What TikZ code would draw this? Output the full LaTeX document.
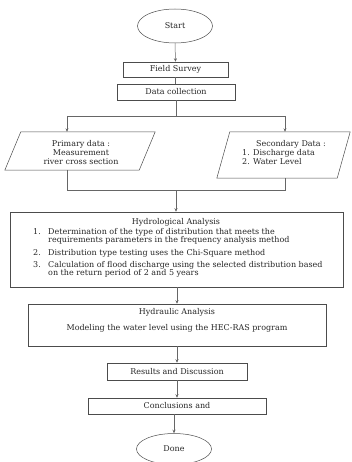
\documentclass[tikz,border=0pt]{standalone}
\usepackage{fontspec}
\setmainfont{DejaVu Serif}
\usetikzlibrary{shapes.geometric,arrows.meta,calc}
\tikzset{
  lineclr/.style={draw=black!70, line width=0.5pt},
  boxnode/.style={lineclr, rectangle, inner sep=0pt},
  ovalnode/.style={lineclr, ellipse, inner sep=0pt},
  txt/.style={inner sep=0pt, text=black!85, font=\fontsize{8}{9}\selectfont},
  conn/.style={draw=black!60, line width=0.5pt},
  arr/.style={conn, -{Stealth[length=3.5pt,width=3pt]}},
}
\begin{document}
\begin{tikzpicture}[x=1pt,y=-1pt]
\useasboundingbox (0,0) rectangle (352,462);
\node[ovalnode, minimum width=75, minimum height=34] (start) at (175,26) {};
\node[txt] (starttxt) at (start) {Start};
\node[boxnode, minimum width=105, minimum height=15] (field) at (175.5,69.5) {};
\node[txt] (fieldtxt) at (field) {Field Survey};
\node[boxnode, minimum width=118, minimum height=16] (data) at (176,92) {};
\node[txt] (datatxt) at (data) {Data collection};
\coordinate (j1) at (176,116);
\coordinate (jl) at (67,116);
\coordinate (jr) at (285,116);
% primary parallelogram
\node[inner sep=0pt, minimum width=150, minimum height=38] (prim) at (80,151) {};
\draw[lineclr] (prim.south west) -- ($(prim.north west)+(16,0)$) -- (prim.north east) -- ($(prim.south east)+(-16,0)$) -- cycle;
\node[txt, align=center] (primtxt) at (81,153) {Primary data :\\Measurement\\river cross section};
% secondary parallelogram
\node[inner sep=0pt, minimum width=133, minimum height=46] (sec) at (283.5,155) {};
\draw[lineclr] (sec.south west) -- ($(sec.north west)+(13,0)$) -- (sec.north east) -- ($(sec.south east)+(-13,0)$) -- cycle;
\node[txt, anchor=mid] (sectitle) at (291,144) {Secondary Data :};
\node[txt, anchor=mid west] (sec1) at (242,153) {1. Discharge data};
\node[txt, anchor=mid west] (sec2) at (242,162) {2. Water Level};
\coordinate (pb) at (67,170);
\coordinate (sb) at (285,178);
\coordinate (pl) at (67,190);
\coordinate (sl) at (285,190);
\coordinate (j2) at (176,190);
% hydrological
\node[boxnode, minimum width=333, minimum height=75] (hydro) at (176.5,249.5) {};
\node[txt, anchor=mid] (hydtitle) at (176,222) {Hydrological Analysis};
\node[txt, anchor=mid west] (n1) at (33,232) {1.};
\node[txt, anchor=mid west] (i1a) at (48,232) {Determination of the type of distribution that meets the};
\node[txt, anchor=mid west] (i1b) at (48,240) {requirements parameters in the frequency analysis method};
\node[txt, anchor=mid west] (n2) at (33,253) {2.};
\node[txt, anchor=mid west] (i2) at (48,253) {Distribution type testing uses the Chi-Square method};
\node[txt, anchor=mid west] (n3) at (33,265) {3.};
\node[txt, anchor=mid west] (i3a) at (48,265) {Calculation of flood discharge using the selected distribution based};
\node[txt, anchor=mid west] (i3b) at (48,273) {on the return period of 2 and 5 years};
% hydraulic
\node[boxnode, minimum width=298, minimum height=42] (hydra) at (177,325) {};
\node[txt, anchor=mid] (hydratitle) at (177,312) {Hydraulic Analysis};
\node[txt, anchor=mid] (hydratxt) at (177,328) {Modeling the water level using the HEC-RAS program};
% results
\node[boxnode, minimum width=140, minimum height=17] (res) at (177,371.5) {};
\node[txt] (restxt) at (res) {Results and Discussion};
\node[boxnode, minimum width=178, minimum height=16] (conc) at (177,406) {};
\node[txt] (conctxt) at (conc) {Conclusions and};
\node[ovalnode, minimum width=75, minimum height=31] (done) at (174,449) {};
\node[txt] (donetxt) at (done) {Done};
% connectors
\draw[arr] (start.south) -- (field.north);
\draw[conn] (field.south) -- (data.north -| field.south);
\draw[conn] (data.south) -- (j1);
\draw[conn] (jl) -- (jr);
\draw[arr] (jl) -- (jl |- prim.north);
\draw[arr] (jr) -- (jr |- sec.north);
\draw[conn] (pb) -- (pl) -- (sl) -- (sb);
\draw[arr] (j2) -- (hydro.north -| j2);
\draw[arr] (hydro.south -| hydra.north) -- (hydra.north);
\draw[arr] (hydra.south) -- (res.north);
\draw[arr] (res.south) -- (conc.north);
\draw[arr] (conc.south -| done.north) -- (done.north);
\end{tikzpicture}
\end{document}
